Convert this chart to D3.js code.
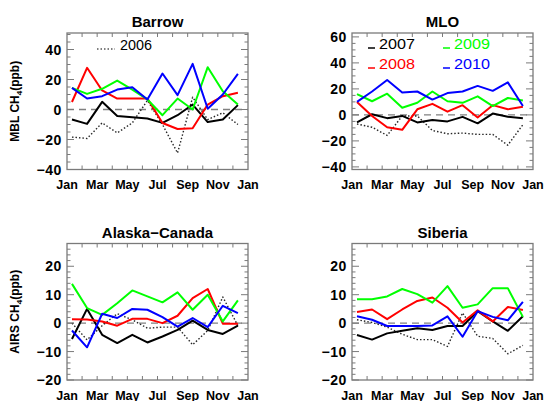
<!DOCTYPE html>
<html>
<head>
<meta charset="utf-8">
<script src="https://cdn.jsdelivr.net/npm/d3@7"></script>
<style>
  html, body { margin: 0; padding: 0; background: #fff; }
  svg { display: block; }
  text { font-family: "Liberation Sans", Arial, Helvetica, sans-serif; fill: #000; }
</style>
</head>
<body>
<script>
// Month tick labels (every other month, Jan .. Jan)
const monthLabels = ["Jan", "Mar", "May", "Jul", "Sep", "Nov", "Jan"];
const years = ["2006", "2007", "2008", "2009", "2010"];

// Monthly CH4 anomalies (ppb), Jan..Dec
const barrow2006 = [-18.4, -19.3, -8.9, -15.6, -8.9, 6, -10, -29, 8.2, -6.7, -2.2, -10];
const barrow2007 = [-6.7, -9.6, 5.1, -4.4, -5.1, -6, -8.9, -3.8, 3.3, -8.4, -6.7, 2.9];
const barrow2008 = [5, 27.8, 12.7, 7.3, 7.3, 7.3, -9, -13, -12.5, 3.3, 8.9, 11.1];
const barrow2009 = [14.4, 10.4, 13.8, 19.3, 13.3, 6.7, -3.8, 7.3, 0, 28.2, 12.2, 3.3];
const barrow2010 = [14.4, 7.3, 8.9, 13.3, 14.9, 6.7, 24, 9.6, 30.4, 0.5, 10, 23.8];

const mlo2006 = [-7, -9.5, -15.8, -0.8, -0.8, -12, -14.5, -14, -15, -15, -23.3, -7.5];
const mlo2007 = [-5.8, 0.5, -2.5, -0.8, -5.8, -4, -5, -1.5, -6.5, 1, -1.5, -2.5];
const mlo2008 = [10, -0.8, -9.5, -11.5, 4.3, 8.5, 2.5, 7.5, -2, 7.5, 4.3, 6.3];
const mlo2009 = [16, 10.5, 16.3, 5.5, 9.3, 18, 10.5, 9.3, 14.3, 6.8, 13, 11];
const mlo2010 = [10, 18, 26.8, 17.3, 18, 11.8, 16.8, 18, 22.3, 18.5, 25, 6.8];

const akcan2006 = [0, -5.9, -0.9, 3.3, 1.2, -1.8, -1.4, -1.4, -7.6, -2.6, 9.2, -0.9];
const akcan2007 = [-5.6, 5, -4.1, -7, -4.1, -6.8, -4.7, -2.4, 0.9, -2.4, -3.8, -0.9];
const akcan2008 = [1.4, 1.3, 0.6, -0.9, 1.5, 1.5, 0, 2.6, 8.8, 12, -0.2, -0.2];
const akcan2009 = [13.8, 5.3, 2.9, 7, 11.5, 9.4, 7.3, 10.8, 4.7, 10, 0.6, 8];
const akcan2010 = [-2.6, -8.5, 3.3, 1.8, 5, 4.7, 2.1, -1.2, 1.8, -1.4, 6.1, 3.5];

const siberia2006 = [1.2, 0.2, -1.4, -3.9, -5.8, -5.8, -8.2, 3.6, -4.6, -5.4, -10.8, -7.8];
const siberia2007 = [-4.2, -5.8, -3.6, -2.7, -1.8, -2.4, -1, -1, 4.2, 0.6, -2.7, 2.4];
const siberia2008 = [3.9, 4.8, 1.4, 4.8, 7.8, 9, 5.4, 0.2, 4.5, 0.6, 5.7, 4.6];
const siberia2009 = [8.4, 8.4, 9.4, 12, 10.2, 7.2, 13, 5.4, 6.6, 12.3, 12.3, 2.2];
const siberia2010 = [2.4, 1.2, -1, -1, -1, -0.8, 2.4, -4.8, 4.2, 2.2, 1, 7.5];

const yTicksTop = [-40, -20, 0, 20, 40];
const yTicksMLO = [-40, -20, 0, 20, 40, 60];
const yTicksBottom = [-20, -10, 0, 10, 20];

const lineColors = { "2006": "#000", "2007": "#000", "2008": "#ff0000", "2009": "#00ff00", "2010": "#0000ff" };

const W = 547, H = 401;
const svg = d3.select("body").append("svg").attr("width", W).attr("height", H);
svg.append("rect").attr("width", W).attr("height", H).attr("fill", "#fff");

const panels = [
  { title: "Barrow", x0: 67, y0: 33, yDomain: [-40, 51], ticks: yTicksTop, minor: 5,
    ylabel: "MBL", series: [barrow2006, barrow2007, barrow2008, barrow2009, barrow2010], legend: "barrow" },
  { title: "MLO", x0: 352, y0: 33, yDomain: [-42, 63], ticks: yTicksMLO, minor: 5,
    ylabel: null, series: [mlo2006, mlo2007, mlo2008, mlo2009, mlo2010], legend: "mlo" },
  { title: "Alaska\u2212Canada", x0: 67, y0: 243.5, yDomain: [-20, 28], ticks: yTicksBottom, minor: 2,
    ylabel: "AIRS", series: [akcan2006, akcan2007, akcan2008, akcan2009, akcan2010] },
  { title: "Siberia", x0: 352, y0: 243.5, yDomain: [-20, 28], ticks: yTicksBottom, minor: 2,
    ylabel: null, series: [siberia2006, siberia2007, siberia2008, siberia2009, siberia2010] }
];

const PW = 181, PH = 136.5;
const frameColor = "#7a7a7a";

panels.forEach(p => {
  const g = svg.append("g").attr("transform", `translate(${p.x0},${p.y0})`);
  const x = d3.scaleLinear().domain([0, 12]).range([0, PW]);
  const y = d3.scaleLinear().domain(p.yDomain).range([PH, 0]);

  // zero reference
  g.append("line")
    .attr("x1", 0).attr("x2", PW).attr("y1", y(0)).attr("y2", y(0))
    .attr("stroke", "#808080").attr("stroke-width", 1.3).attr("stroke-dasharray", "7,5");

  // data lines
  const line = d3.line().x((d, i) => x(i + 0.33)).y(d => y(d));
  p.series.forEach((vals, k) => {
    const yr = years[k];
    g.append("path")
      .datum(vals)
      .attr("d", line)
      .attr("fill", "none")
      .attr("stroke", lineColors[yr])
      .attr("stroke-width", yr === "2006" ? 1.4 : 2)
      .attr("stroke-linejoin", "round")
      .attr("stroke-dasharray", yr === "2006" ? "1.5,2" : null)
      .attr("opacity", yr === "2006" ? 0.85 : 1);
  });

  // frame
  g.append("rect").attr("width", PW).attr("height", PH)
    .attr("fill", "none").attr("stroke", frameColor).attr("stroke-width", 1.3);

  // month ticks on top and bottom (inward)
  const monthTicks = d3.range(1, 12);
  monthTicks.forEach(m => {
    g.append("line").attr("x1", x(m)).attr("x2", x(m)).attr("y1", PH).attr("y2", PH - 4)
      .attr("stroke", frameColor).attr("stroke-width", 1);
    g.append("line").attr("x1", x(m)).attr("x2", x(m)).attr("y1", 0).attr("y2", 4)
      .attr("stroke", frameColor).attr("stroke-width", 1);
  });

  // y minor and major ticks on left and right
  const yMin = Math.ceil(p.yDomain[0] / p.minor) * p.minor;
  d3.range(yMin, p.yDomain[1] + 0.001, p.minor).forEach(v => {
    const major = p.ticks.includes(v);
    const len = major ? 7 : 3.5;
    g.append("line").attr("x1", 0).attr("x2", len).attr("y1", y(v)).attr("y2", y(v))
      .attr("stroke", frameColor).attr("stroke-width", 1);
    g.append("line").attr("x1", PW).attr("x2", PW - len).attr("y1", y(v)).attr("y2", y(v))
      .attr("stroke", frameColor).attr("stroke-width", 1);
  });

  // y tick labels
  p.ticks.forEach(v => {
    g.append("text")
      .attr("x", -5).attr("y", y(v) + 5)
      .attr("text-anchor", "end")
      .attr("font-size", 14).attr("font-weight", "bold")
      .attr("letter-spacing", 0.6)
      .text(v < 0 ? "\u2212" + Math.abs(v) : String(v));
  });

  // month labels
  monthLabels.forEach((m, i) => {
    g.append("text")
      .attr("x", x(i * 2)).attr("y", PH + 19.5)
      .attr("text-anchor", "middle")
      .attr("font-size", 12.5).attr("font-weight", "bold")
      .text(m);
  });

  // title
  g.append("text")
    .attr("x", PW / 2).attr("y", -6)
    .attr("text-anchor", "middle")
    .attr("font-size", 15).attr("font-weight", "bold")
    .text(p.title);

  // y axis title
  if (p.ylabel) {
    const t = g.append("text")
      .attr("transform", `translate(${-48},${PH / 2}) rotate(-90)`)
      .attr("text-anchor", "middle")
      .attr("font-size", 12).attr("font-weight", "bold");
    t.append("tspan").text(p.ylabel + " CH");
    t.append("tspan").attr("font-size", 8).attr("dy", 3).text("4");
    t.append("tspan").attr("dy", -3).text("(ppb)");
  }

  // legends
  if (p.legend === "barrow") {
    g.append("line").attr("x1", 30).attr("x2", 48).attr("y1", 16).attr("y2", 16)
      .attr("stroke", "#000").attr("stroke-width", 1.2).attr("stroke-dasharray", "1.5,2");
    g.append("text").attr("x", 53).attr("y", 17)
      .attr("font-size", 14).attr("textLength", 32).attr("lengthAdjust", "spacingAndGlyphs")
      .text("2006");
  }
  if (p.legend === "mlo") {
    const items = [
      { yr: "2007", lx: 16, ly: 15 },
      { yr: "2009", lx: 91, ly: 15 },
      { yr: "2008", lx: 16, ly: 35 },
      { yr: "2010", lx: 91, ly: 35 }
    ];
    items.forEach(it => {
      g.append("line").attr("x1", it.lx).attr("x2", it.lx + 7).attr("y1", it.ly).attr("y2", it.ly)
        .attr("stroke", lineColors[it.yr]).attr("stroke-width", 1.5);
      g.append("text").attr("x", it.lx + 11).attr("y", it.ly + 0.5)
        .attr("font-size", 14).attr("textLength", 36).attr("lengthAdjust", "spacingAndGlyphs")
        .attr("fill", lineColors[it.yr])
        .style("fill", lineColors[it.yr])
        .text(it.yr);
    });
  }
});
</script>
</body>
</html>
